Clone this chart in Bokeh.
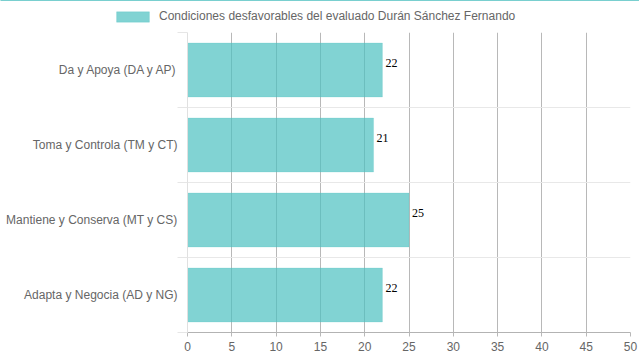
from bokeh.plotting import figure
from bokeh.layouts import column
from bokeh.models import (Range1d, FixedTicker, SingleIntervalTicker, ColumnDataSource,
                          Legend, LegendItem)
from bokeh.core.properties import value
from bokeh.embed import file_html
from bokeh.resources import INLINE

categories = ["Da y Apoya (DA y AP)", "Toma y Controla (TM y CT)",
              "Mantiene y Conserva (MT y CS)", "Adapta y Negocia (AD y NG)"]
scores = [22, 21, 25, 22]
series_name = "Condiciones desfavorables del evaluado Durán Sánchez Fernando"
x_max = 50
x_step = 5

n = len(categories)
centers = [i + 0.5 for i in range(n)]
bounds = [i for i in range(n + 1)]
src = ColumnDataSource(dict(y=centers, x=scores, label=[str(v) for v in scores]))

FONT = "Liberation Sans"
BAR_FILL = (75, 192, 192)

# ---------- legend strip (its own frame spans the whole strip) ----------
lf = figure(width=639, height=32, output_backend="svg", toolbar_location=None,
            x_range=Range1d(0, 1), y_range=Range1d(-2, -1),
            x_axis_type=None, y_axis_type=None, min_border=0)
lf.frame_align = False
lf.outline_line_color = None
lf.xgrid.visible = False
lf.ygrid.visible = False
swatch = lf.hbar(y="y", right="x", left=0, height=0.72, source=src,
                 fill_color=BAR_FILL, fill_alpha=0.7,
                 line_color=BAR_FILL, line_alpha=0.25, line_width=1)
legend = Legend(items=[LegendItem(label=series_name, renderers=[swatch])],
                location=(112, 9), glyph_width=41, glyph_height=13,
                label_height=13, label_standoff=6, padding=0, margin=0,
                border_line_color=None, background_fill_alpha=0,
                label_text_font=FONT, label_text_font_size="12px",
                label_text_color="#666666")
lf.add_layout(legend)

# ---------- main chart ----------
p = figure(width=639, height=328, output_backend="svg", toolbar_location=None,
           x_range=Range1d(0, x_max), y_range=Range1d(n, 0),
           min_border_left=187, min_border_right=9, min_border_top=0, min_border_bottom=28)
p.frame_align = False
p.outline_line_color = None

r = p.hbar(y="y", right="x", left=0, height=0.72, source=src,
           fill_color=BAR_FILL, fill_alpha=0.7,
           line_color=BAR_FILL, line_alpha=0.2, line_width=1)

p.text(x="x", y="y", text="label", source=src, x_offset=3, y_offset=-7,
       text_baseline="middle", text_align="left",
       text_font=value("Liberation Serif"), text_font_size="12px", text_color="black")

xa = p.xaxis[0]
xa.ticker = SingleIntervalTicker(interval=x_step, num_minor_ticks=0)
xa.major_tick_out = 4
xa.major_tick_in = 0
xa.minor_tick_out = 0
xa.major_tick_line_color = "#b8b8b8"
xa.axis_line_color = "#b3b3b3"
xa.major_label_standoff = 5
xa.major_label_text_font = FONT
xa.major_label_text_font_size = "12px"
xa.major_label_text_color = "#666666"

ya = p.yaxis[0]
ya.ticker = FixedTicker(ticks=centers, minor_ticks=bounds)
ya.major_label_overrides = {c: lab for c, lab in zip(centers, categories)}
ya.major_tick_out = 0
ya.major_tick_in = 0
ya.minor_tick_out = 10
ya.minor_tick_in = 0
ya.minor_tick_line_color = "#e6e6e6"
ya.axis_line_color = "#e0e0e0"
ya.major_label_standoff = 0
ya.major_label_text_font = FONT
ya.major_label_text_font_size = "12px"
ya.major_label_text_color = "#666666"

p.xgrid.grid_line_color = "#b8b8b8"
p.xgrid.ticker = SingleIntervalTicker(interval=x_step, num_minor_ticks=0)
p.ygrid.ticker = FixedTicker(ticks=bounds)
p.ygrid.grid_line_color = "#e8e8e8"

page = column(lf, p, spacing=0)
open("out.html", "w").write(file_html(page, INLINE))
